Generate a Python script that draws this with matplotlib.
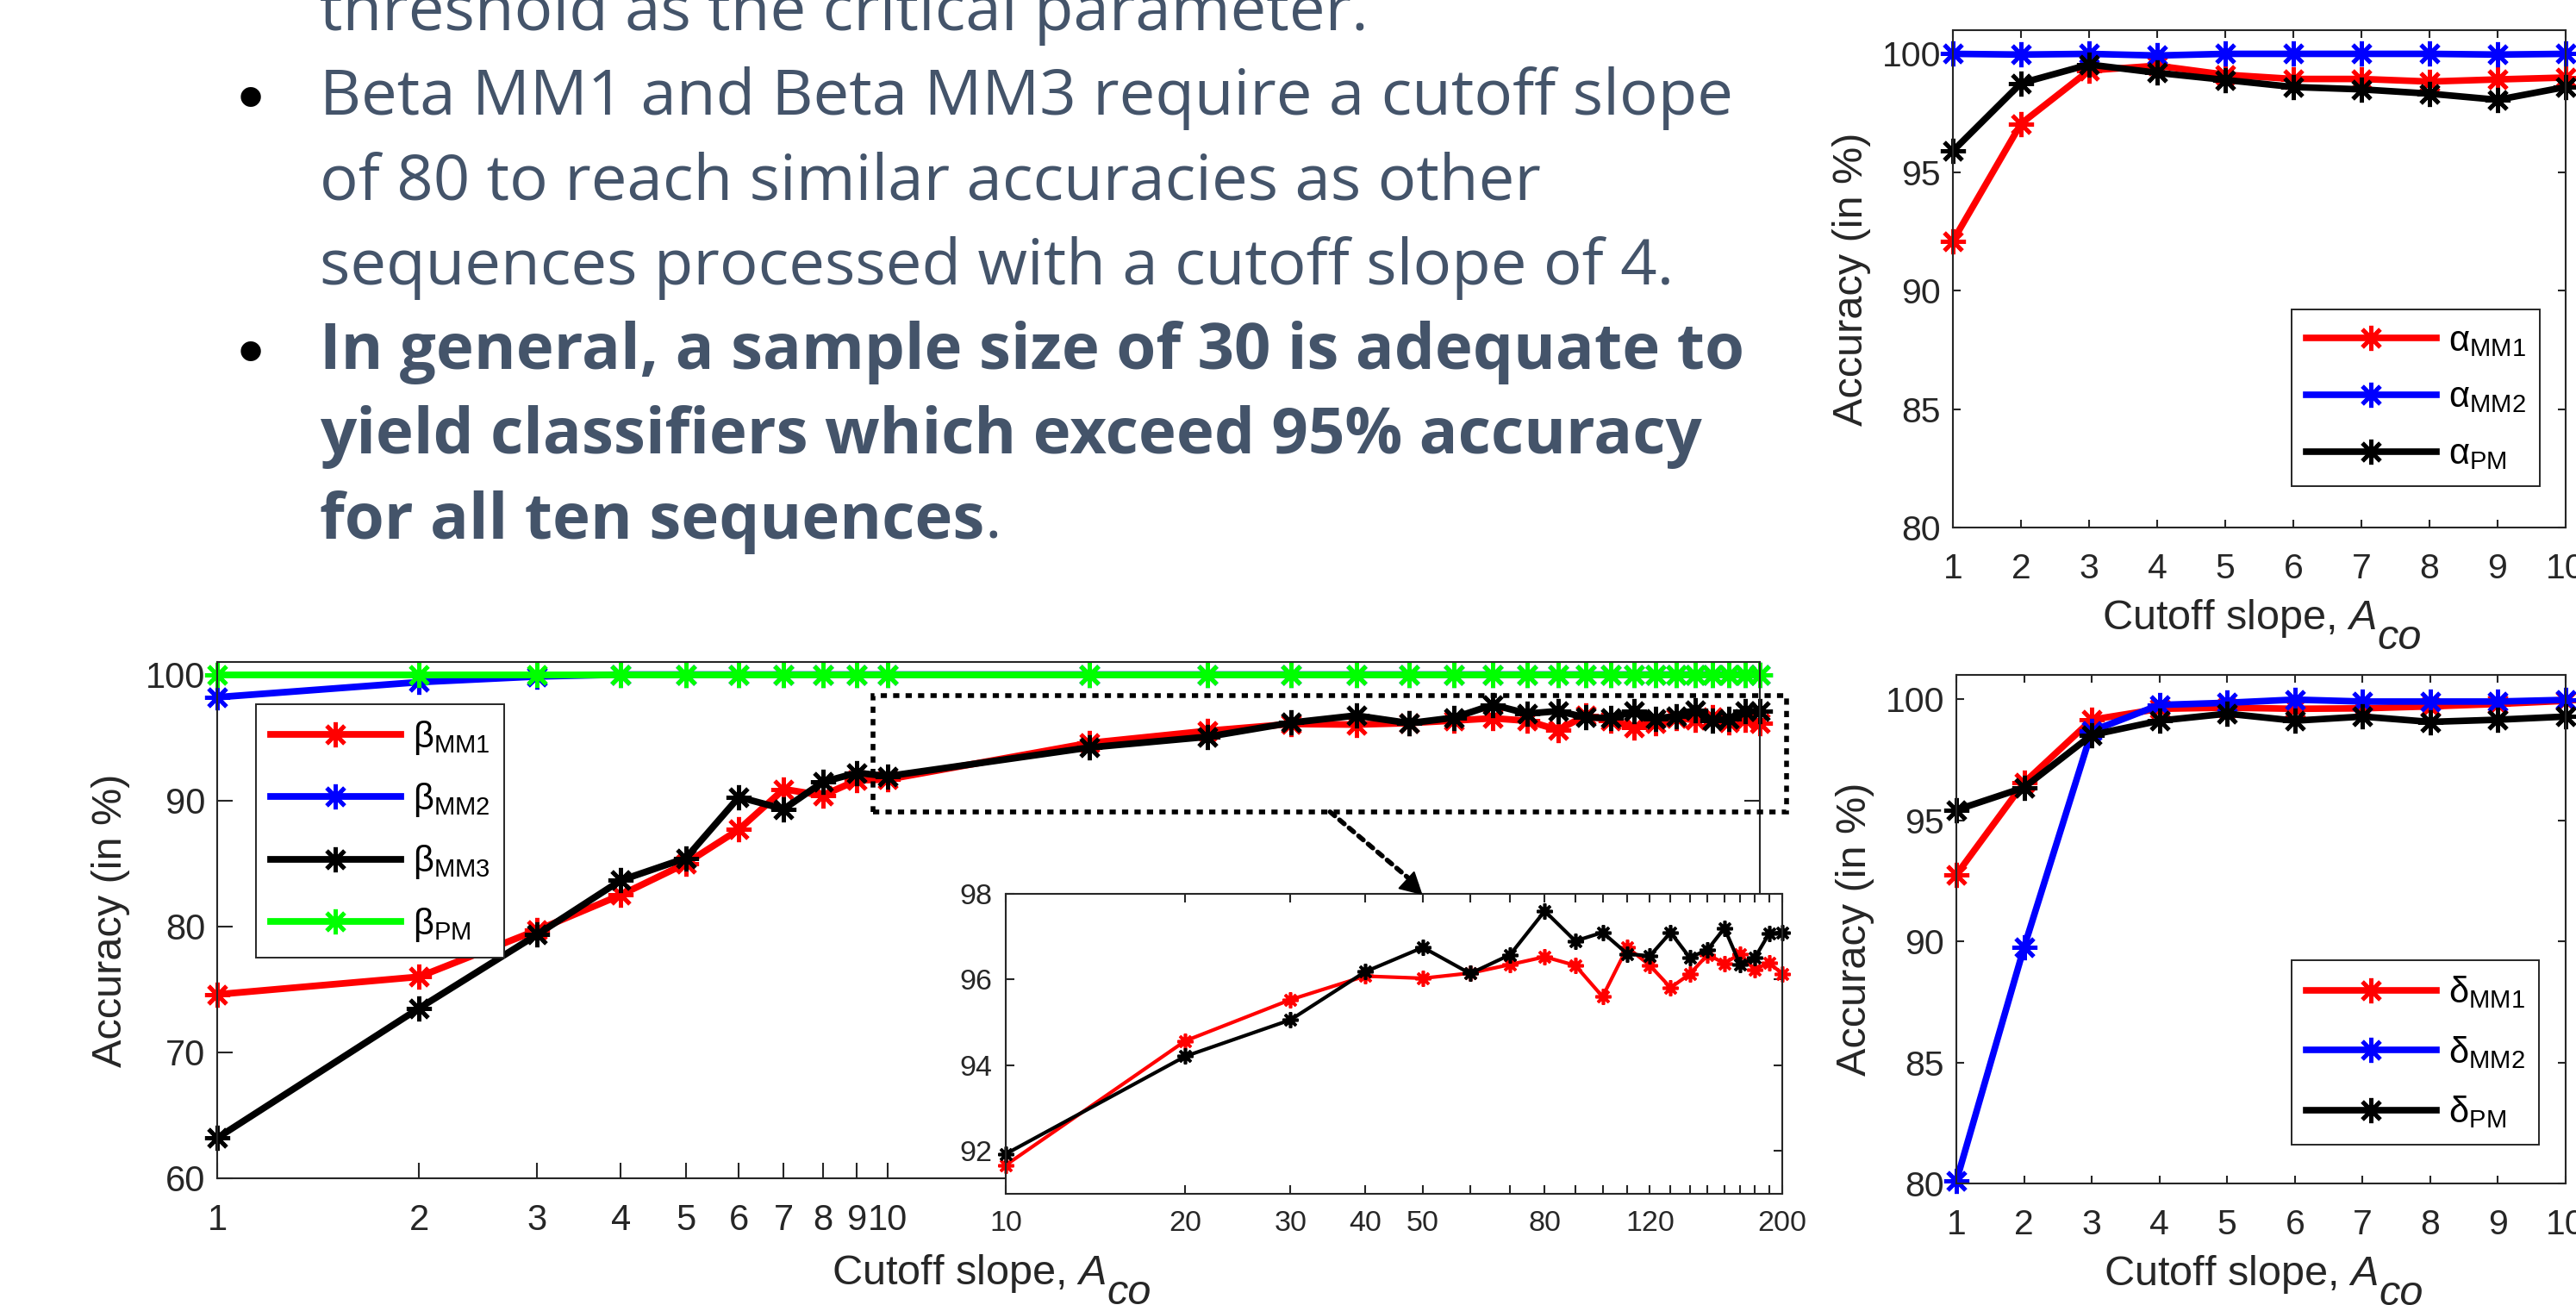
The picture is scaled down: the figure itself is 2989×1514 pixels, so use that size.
import matplotlib
matplotlib.use('Agg')
import matplotlib.pyplot as plt
from matplotlib.ticker import NullLocator
from matplotlib.patches import Rectangle
from matplotlib.text import Annotation

plt.rcParams['font.family'] = ['Liberation Sans', 'DejaVu Sans']
plt.rcParams['mathtext.fontset'] = 'custom'
plt.rcParams['mathtext.rm'] = 'Liberation Sans'
plt.rcParams['mathtext.it'] = 'Liberation Sans:italic'
plt.rcParams['mathtext.bf'] = 'Liberation Sans:bold'

# ---------------- data ----------------
x_beta = [1, 2, 3, 4, 5, 6, 7, 8, 9, 10, 20, 30, 40, 50, 60, 70, 80, 90, 100,
          110, 120, 130, 140, 150, 160, 170, 180, 190, 200]
beta_mm1 = [74.6, 76.0, 79.7, 82.5, 85.0, 87.7, 90.9, 90.4, 91.6, 91.67, 94.57, 95.53,
            96.08, 96.03, 96.15, 96.35, 96.53, 96.33, 95.6, 96.75, 96.33, 95.81, 96.13,
            96.58, 96.38, 96.6, 96.23, 96.4, 96.13]
beta_mm2 = [98.2, 99.4, 99.85, 100, 100, 100, 100, 100, 100, 100, 100, 100, 100, 100,
            100, 100, 100, 100, 100, 100, 100, 100, 100, 100, 100, 100, 100, 100, 100]
beta_mm3 = [63.2, 73.5, 79.35, 83.66, 85.42, 90.27, 89.32, 91.46, 92.2, 91.93, 94.21,
            95.06, 96.18, 96.75, 96.14, 96.58, 97.6, 96.9, 97.1, 96.6, 96.55, 97.1,
            96.51, 96.7, 97.2, 96.35, 96.51, 97.07, 97.1]
beta_pm = [100, 100, 100, 100, 100, 100, 100, 100, 100, 100, 100, 100, 100, 100, 100,
           100, 100, 100, 100, 100, 100, 100, 100, 100, 100, 100, 100, 100, 100]
beta_xlabels = ['1', '2', '3', '4', '5', '6', '7', '8', '9', '10', '', '', '', '', '',
                '', '', '', '', '', '', '', '', '', '', '', '', '', '']

x_inset = [10, 20, 30, 40, 50, 60, 70, 80, 90, 100, 110, 120, 130, 140, 150, 160,
           170, 180, 190, 200]
inset_xlabels = ['10', '20', '30', '40', '50', '', '', '80', '', '', '', '120', '', '',
                 '', '', '', '', '', '200']

x_small = [1, 2, 3, 4, 5, 6, 7, 8, 9, 10]
alpha_mm1 = [92.1, 97.05, 99.3, 99.5, 99.12, 98.94, 98.94, 98.83, 98.92, 99.0]
alpha_mm2 = [100, 99.97, 100, 99.93, 100, 100, 100, 100, 99.97, 100]
alpha_pm = [95.9, 98.76, 99.55, 99.2, 98.9, 98.6, 98.5, 98.32, 98.06, 98.6]

delta_mm1 = [92.75, 96.55, 99.15, 99.6, 99.65, 99.6, 99.62, 99.7, 99.8, 99.93]
delta_mm2 = [80.1, 89.75, 98.68, 99.76, 99.85, 99.98, 99.9, 99.9, 99.9, 99.97]
delta_pm = [95.42, 96.35, 98.52, 99.11, 99.4, 99.11, 99.28, 99.06, 99.15, 99.28]

text_lines = [
    'threshold as the critical parameter.',
    'Beta MM1 and Beta MM3 require a cutoff slope',
    'of 80 to reach similar accuracies as other',
    'sequences processed with a cutoff slope of 4.',
    'In general, a sample size of 30 is adequate to',
    'yield classifiers which exceed 95% accuracy',
    'for all ten sequences',
]
text_bold = [False, False, False, False, True, True, True]
text_bullet = [False, True, False, False, True, False, False]

# ---------------- style ----------------
W, H = 2989, 1514
AXC = '#262626'
SLATE = '#44546A'
AST = (8, 2, 0)

fig = plt.figure(figsize=(W / 100, H / 100), dpi=100)


def rect(l, t, r, b):
    return [l / W, 1 - b / H, (r - l) / W, (b - t) / H]


def style(ax, ticklen, fs, xpad, ypad):
    for s in ax.spines.values():
        s.set_color(AXC)
        s.set_linewidth(1.5)
    ax.tick_params(which='both', direction='in', top=True, right=True,
                   length=ticklen, width=1.5, color=AXC, labelcolor=AXC,
                   labelsize=fs)
    ax.tick_params(axis='x', pad=xpad)
    ax.tick_params(axis='y', pad=ypad)


def add_legend(ax, left, top, spacing):
    leg = ax.legend(loc='upper left', bbox_to_anchor=(left / W, 1 - top / H),
                    bbox_transform=fig.transFigure, borderaxespad=0, fontsize=30,
                    handlelength=3.62, handletextpad=0.34, borderpad=0.4,
                    labelspacing=spacing, fancybox=False, framealpha=1,
                    edgecolor=AXC, numpoints=1)
    leg.get_frame().set_linewidth(1.4)
    for t in leg.get_texts():
        t.set_color('black')
    return leg


def add_xlabel(ax, fs, pad, xfrac):
    lbl = ax.set_xlabel(r'Cutoff slope, $\mathit{A}$', fontsize=fs, color=AXC,
                        labelpad=pad)
    lbl.set_x(xfrac)
    ax.annotate('co', xy=(1, 0), xycoords=lbl, xytext=(1, -8),
                textcoords='offset points', fontsize=fs, style='italic',
                color=AXC, ha='left', va='baseline', annotation_clip=False)


# ---------------- main beta axes ----------------
ax = fig.add_axes(rect(252, 768, 2042, 1367))
ax.set_xscale('log')
kw = dict(marker=AST, ms=21, mew=3.5, lw=5.6, clip_on=False)
ax.plot(x_beta, beta_mm1, color='#FF0000', label=r'$\mathrm{β}_{\mathrm{MM1}}$', **kw)
ax.plot(x_beta, beta_mm2, color='#0000FF', label=r'$\mathrm{β}_{\mathrm{MM2}}$', **kw)
ax.plot(x_beta, beta_mm3, color='#000000', label=r'$\mathrm{β}_{\mathrm{MM3}}$', **kw)
ax.plot(x_beta, beta_pm, color='#00FF00', label=r'$\mathrm{β}_{\mathrm{PM}}$', **kw)
ax.set_xlim(1, 200)
ax.set_ylim(60, 101)
ax.set_xticks(x_beta, beta_xlabels)
ax.xaxis.set_minor_locator(NullLocator())
ax.set_yticks([60, 70, 80, 90, 100])
style(ax, 13, 30, 21, 10)
ax.set_axisbelow(True)
ax.set_ylabel('Accuracy (in %)', fontsize=35, color=AXC, labelpad=13)
add_xlabel(ax, 35, 12, 0.487)
add_legend(ax, 297, 817, 0.68)

ax.add_patch(Rectangle((9.5, 89.1), 219 - 9.5, 98.3 - 89.1, fill=False,
                       lw=4, ls=(0, (1.3, 1.3)), ec='black', clip_on=False,
                       zorder=5))
ax.annotate('', xy=(61.5, 83.3), xytext=(45.7, 89.1),
            arrowprops=dict(arrowstyle='-', ls=(0, (1.3, 1.3)), lw=4,
                            color='black', shrinkA=0, shrinkB=0),
            annotation_clip=False)

# ---------------- inset ----------------
axi = fig.add_axes(rect(1167, 1037, 2068, 1385))
axi.set_xscale('log')
kwi = dict(marker=AST, ms=13, mew=2.6, lw=3.0, clip_on=False)
axi.plot(x_beta[9:], beta_mm1[9:], color='#FF0000', **kwi)
axi.plot(x_beta[9:], beta_mm3[9:], color='#000000', **kwi)
axi.set_xlim(10, 200)
axi.set_ylim(91, 98)
axi.set_xticks(x_inset, inset_xlabels)
axi.xaxis.set_minor_locator(NullLocator())
axi.set_yticks([92, 94, 96, 98])
style(axi, 7, 24.5, 14, 11)
axi.annotate('', xy=(62.8, 82.5), xycoords=ax.transData, xytext=(-13, 12),
             textcoords='offset points',
             arrowprops=dict(arrowstyle='-|>,head_length=0.55,head_width=0.3',
                             mutation_scale=30, lw=1.5, color='black',
                             shrinkA=0, shrinkB=0),
             annotation_clip=False)

# ---------------- alpha ----------------
axa = fig.add_axes(rect(2266, 35, 2977, 612))
kws = dict(marker=AST, ms=21, mew=3.5, lw=5.5, clip_on=False)
axa.plot(x_small, alpha_mm1, color='#FF0000', label=r'$\mathrm{α}_{\mathrm{MM1}}$', **kws)
axa.plot(x_small, alpha_mm2, color='#0000FF', label=r'$\mathrm{α}_{\mathrm{MM2}}$', **kws)
axa.plot(x_small, alpha_pm, color='#000000', label=r'$\mathrm{α}_{\mathrm{PM}}$', **kws)
axa.set_xlim(1, 10)
axa.set_ylim(80, 101)
axa.set_xticks(x_small)
axa.set_yticks([80, 85, 90, 95, 100])
style(axa, 6.5, 29.5, 21, 10)
axa.set_ylabel('Accuracy (in %)', fontsize=35, color=AXC, labelpad=9)
add_xlabel(axa, 35, 10, 0.467)
add_legend(axa, 2659, 359, 0.62)

# ---------------- delta ----------------
axd = fig.add_axes(rect(2270, 783, 2977, 1373))
axd.plot(x_small, delta_mm1, color='#FF0000', label=r'$\mathrm{δ}_{\mathrm{MM1}}$', **kws)
axd.plot(x_small, delta_mm2, color='#0000FF', label=r'$\mathrm{δ}_{\mathrm{MM2}}$', **kws)
axd.plot(x_small, delta_pm, color='#000000', label=r'$\mathrm{δ}_{\mathrm{PM}}$', **kws)
axd.set_xlim(1, 10)
axd.set_ylim(80, 101)
axd.set_xticks(x_small)
axd.set_yticks([80, 85, 90, 95, 100])
style(axd, 6.5, 29.5, 21, 10)
axd.set_ylabel('Accuracy (in %)', fontsize=35, color=AXC, labelpad=9)
add_xlabel(axd, 35, 10, 0.467)
add_legend(axd, 2659, 1114, 0.66)

# ---------------- text block ----------------
last = None
for i, (s, b, bul) in enumerate(zip(text_lines, text_bold, text_bullet)):
    base = 35 + i * 98.3
    last = fig.text(371 / W, 1 - base / H, s, fontsize=53.6, family='Open Sans',
                    weight='bold' if b else 'normal', color=SLATE,
                    va='baseline', ha='left')
    if bul:
        fig.text(291 / W, 1 - (base + 8) / H, '\u2022', fontsize=62,
                 family='Liberation Sans', color='black', va='baseline',
                 ha='center')
fig.add_artist(Annotation('.', xy=(1, 0), xycoords=last, fontsize=53.6,
                          family='Open Sans', color=SLATE, va='bottom',
                          ha='left'))

fig.savefig('out.png', dpi=100)
